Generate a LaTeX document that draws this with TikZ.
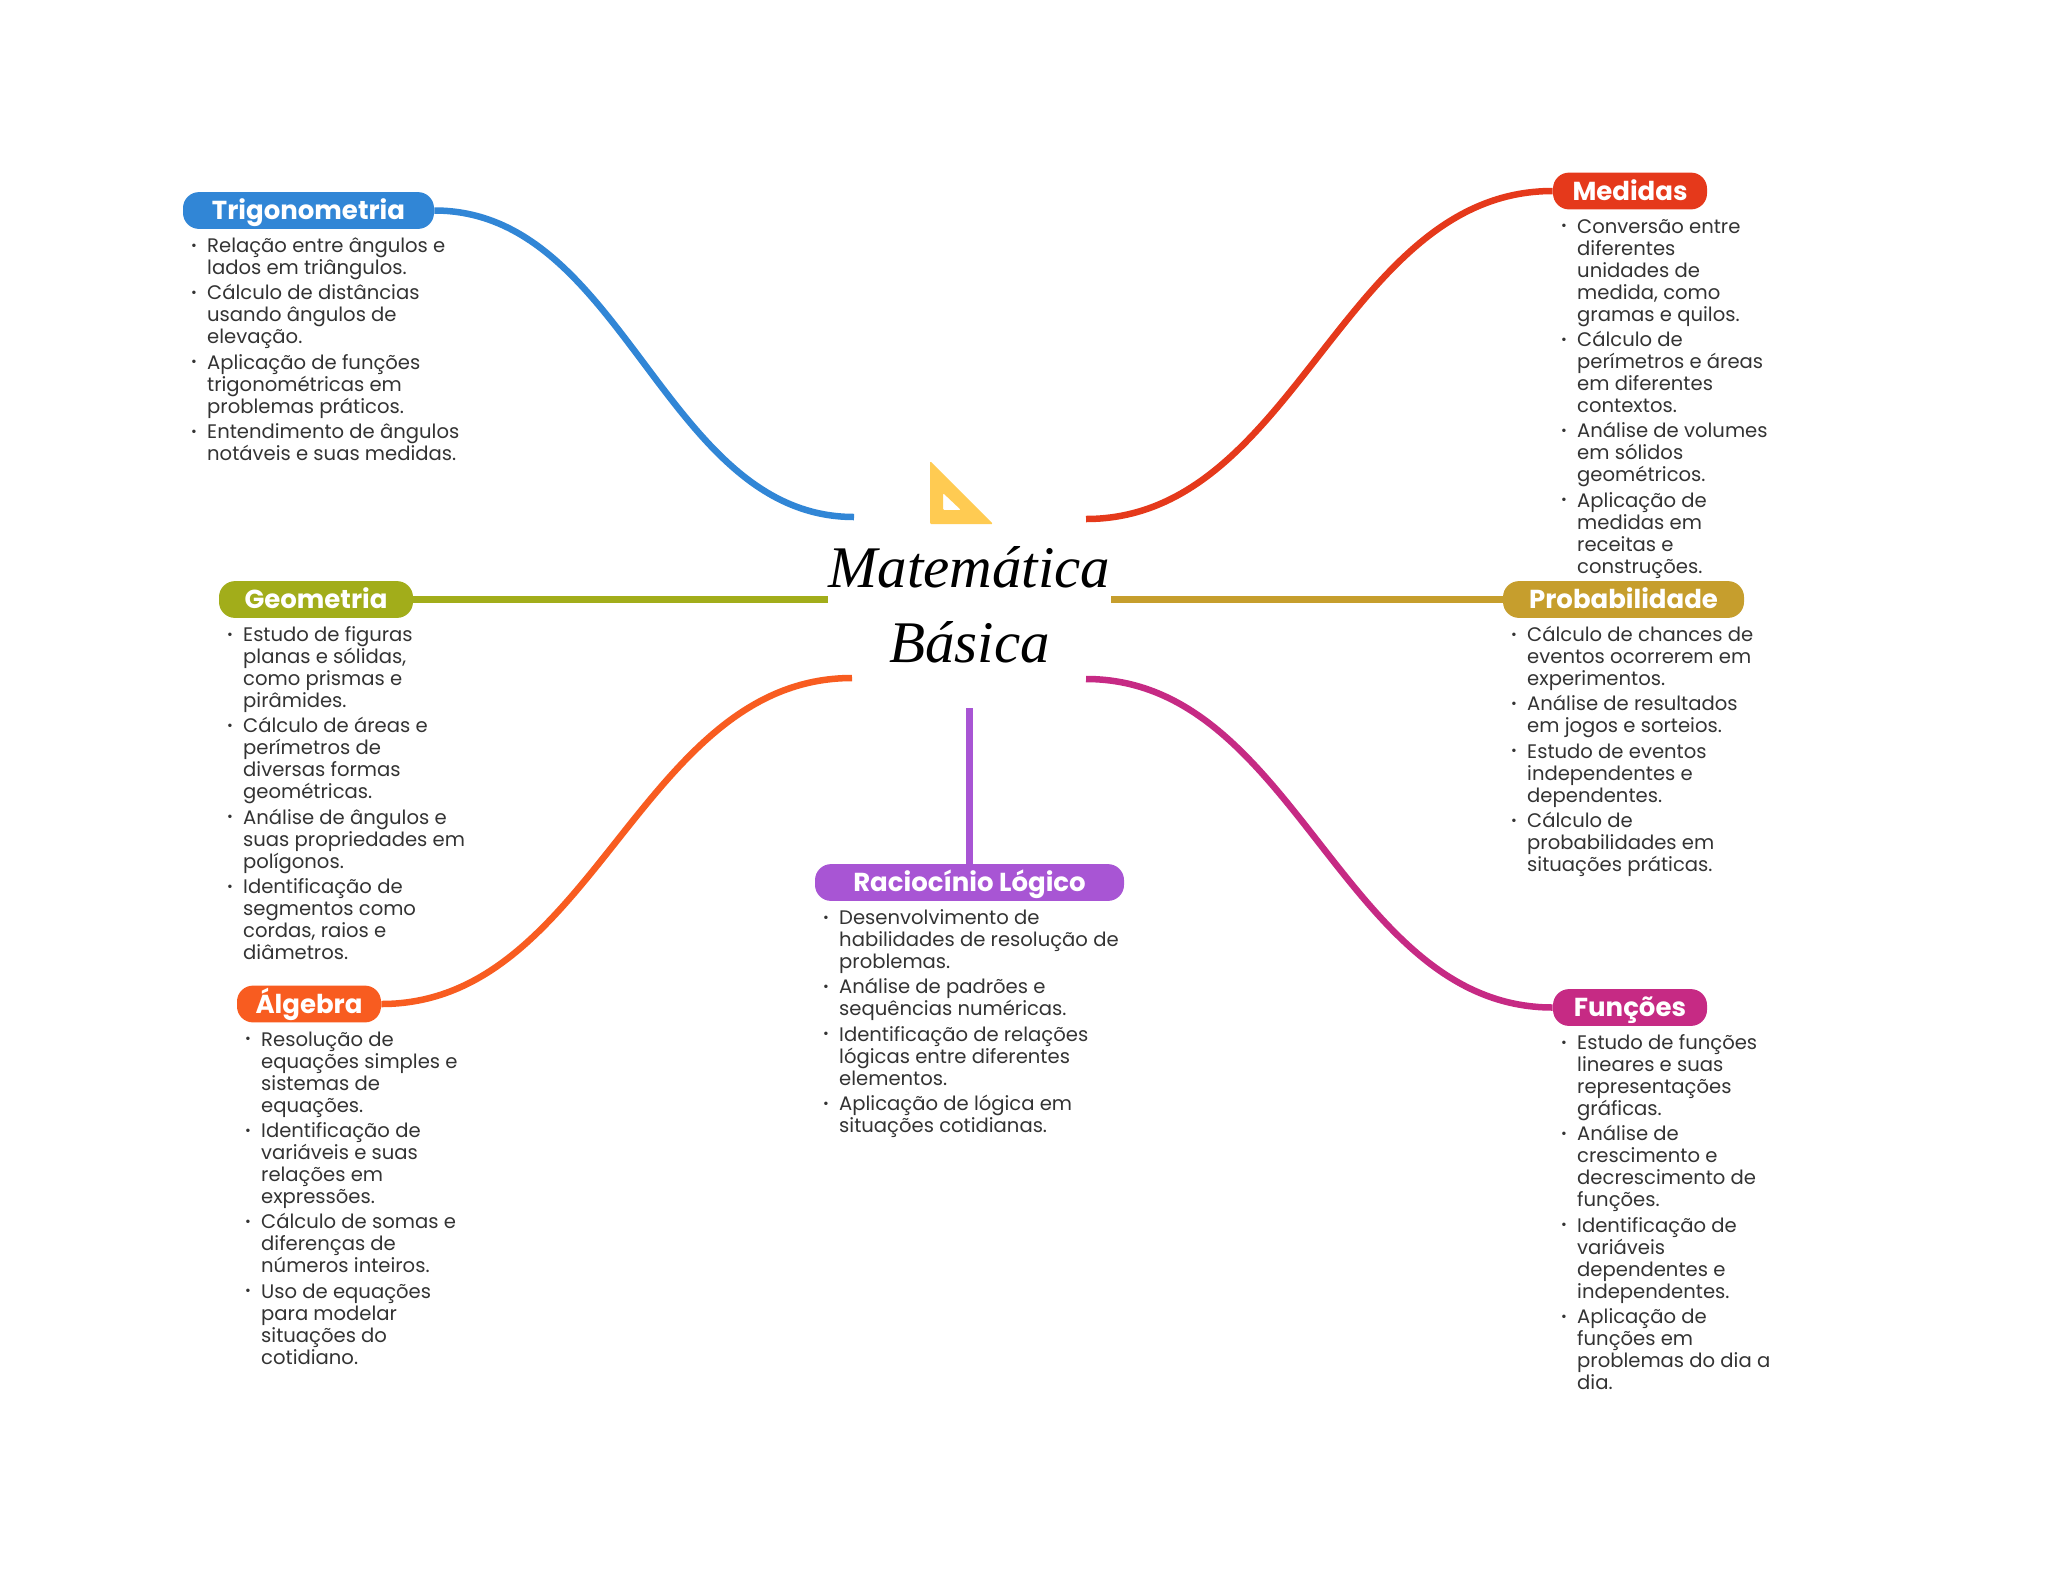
\documentclass[tikz,border=0pt]{standalone}
\usepackage{fontspec}
\usepackage{xcolor}
\setmainfont{Poppins}
\newfontfamily\titlefont{Liberation Serif}
\usetikzlibrary{positioning}
\definecolor{mathBlue}{HTML}{3186D6}
\definecolor{mathRed}{HTML}{E5391B}
\definecolor{mathOlive}{HTML}{A2AD1A}
\definecolor{mathGold}{HTML}{C69E2D}
\definecolor{mathOrange}{HTML}{F85C20}
\definecolor{mathMagenta}{HTML}{C62A84}
\definecolor{mathPurple}{HTML}{A855D4}
\definecolor{mathYellow}{HTML}{FFCB52}
\definecolor{bodyGray}{HTML}{333333}
\newcommand{\itm}{\rule{0pt}{8pt}\llap{\raisebox{1.2pt}{\fontsize{7}{7}\selectfont •}\hspace{5.2pt}}}

\begin{document}
\begin{tikzpicture}[x=0.5pt, y=-0.5pt,
  topic/.style={rectangle, rounded corners=8pt, minimum height=18.4pt, inner sep=0pt, text height=11.5pt, text depth=2.5pt, text=white, font=\fontsize{13}{14}\selectfont\bfseries},
  details/.style={inner sep=0pt, align=left, text=bodyGray, font=\fontsize{9.8}{11}\selectfont},
  link/.style={line width=3.25pt},
  root/.style={inner sep=0pt, align=center, font=\fontsize{29.5}{37.5}\selectfont\titlefont\itshape}
]
\useasboundingbox (0,0) rectangle (2048,1569);
\node[root] (hub) at (969.5,605) {Matemática\\Básica};
\coordinate (hubNW) at (854,517);
\coordinate (hubNE) at (1086,519);
\coordinate (hubW) at (828,599.5);
\coordinate (hubE) at (1111,599.5);
\coordinate (hubSW) at (852,678);
\coordinate (hubSE) at (1086,679);
\coordinate (hubS) at (969.5,708);
\node[topic, fill=mathBlue, minimum width=125.5pt] (trigo) at (308.5,210.5) {Trigonometria};
\node[topic, fill=mathRed, minimum width=77pt] (medidas) at (1630,191) {Medidas};
\node[topic, fill=mathOlive, minimum width=97pt] (geo) at (316,599.5) {Geometria};
\node[topic, fill=mathGold, minimum width=120.5pt] (prob) at (1623.5,599.5) {Probabilidade};
\node[topic, fill=mathOrange, minimum width=72pt] (algebra) at (309,1004) {Álgebra};
\node[topic, fill=mathPurple, minimum width=154.5pt] (logica) at (969.5,882.5) {Raciocínio Lógico};
\node[topic, fill=mathMagenta, minimum width=77pt] (funcoes) at (1630,1007.5) {Funções};
\node[details, below right=3.4pt and 12.1pt of trigo.south west] (trigoList) {\itm Relação entre ângulos e\\lados em triângulos.\\[1.7pt]
\itm Cálculo de distâncias\\usando ângulos de\\elevação.\\[1.7pt]
\itm Aplicação de funções\\trigonométricas em\\problemas práticos.\\[1.7pt]
\itm Entendimento de ângulos\\notáveis e suas medidas.};
\node[details, below right=3.4pt and 12.1pt of medidas.south west] (medidasList) {\itm Conversão entre\\diferentes\\unidades de\\medida, como\\gramas e quilos.\\[1.7pt]
\itm Cálculo de\\perímetros e áreas\\em diferentes\\contextos.\\[1.7pt]
\itm Análise de volumes\\em sólidos\\geométricos.\\[1.7pt]
\itm Aplicação de\\medidas em\\receitas e\\construções.};
\node[details, below right=3.4pt and 12.1pt of geo.south west] (geoList) {\itm Estudo de figuras\\planas e sólidas,\\como prismas e\\pirâmides.\\[1.7pt]
\itm Cálculo de áreas e\\perímetros de\\diversas formas\\geométricas.\\[1.7pt]
\itm Análise de ângulos e\\suas propriedades em\\polígonos.\\[1.7pt]
\itm Identificação de\\segmentos como\\cordas, raios e\\diâmetros.};
\node[details, below right=3.4pt and 12.1pt of prob.south west] (probList) {\itm Cálculo de chances de\\eventos ocorrerem em\\experimentos.\\[1.7pt]
\itm Análise de resultados\\em jogos e sorteios.\\[1.7pt]
\itm Estudo de eventos\\independentes e\\dependentes.\\[1.7pt]
\itm Cálculo de\\probabilidades em\\situações práticas.};
\node[details, below right=3.4pt and 12.1pt of algebra.south west] (algebraList) {\itm Resolução de\\equações simples e\\sistemas de\\equações.\\[1.7pt]
\itm Identificação de\\variáveis e suas\\relações em\\expressões.\\[1.7pt]
\itm Cálculo de somas e\\diferenças de\\números inteiros.\\[1.7pt]
\itm Uso de equações\\para modelar\\situações do\\cotidiano.};
\node[details, below right=3.4pt and 12.1pt of logica.south west] (logicaList) {\itm Desenvolvimento de\\habilidades de resolução de\\problemas.\\[1.7pt]
\itm Análise de padrões e\\sequências numéricas.\\[1.7pt]
\itm Identificação de relações\\lógicas entre diferentes\\elementos.\\[1.7pt]
\itm Aplicação de lógica em\\situações cotidianas.};
\node[details, below right=3.4pt and 12.1pt of funcoes.south west] (funcoesList) {\itm Estudo de funções\\lineares e suas\\representações\\gráficas.\\[1.7pt]
\itm Análise de\\crescimento e\\decrescimento de\\funções.\\[1.7pt]
\itm Identificação de\\variáveis\\dependentes e\\independentes.\\[1.7pt]
\itm Aplicação de\\funções em\\problemas do dia a\\dia.};
\draw[link, draw=mathBlue] (trigo.east) .. controls +(190,0) and +(-190,0) .. (hubNW);
\draw[link, draw=mathRed] (medidas.west) .. controls +(-210,0) and +(210,0) .. (hubNE);
\draw[link, draw=mathOlive] (geo.east) -- (hubW);
\draw[link, draw=mathGold] (prob.west) -- (hubE);
\draw[link, draw=mathOrange] (algebra.east) .. controls +(212,0) and +(-212,0) .. (hubSW);
\draw[link, draw=mathMagenta] (funcoes.west) .. controls +(-210,0) and +(210,0) .. (hubSE);
\draw[link, draw=mathPurple] (hubS) -- (logica.north);
\fill[mathYellow, rounded corners=0.6pt, even odd rule] (930,461) -- (930,524) -- (993,524) -- cycle (943,493) -- (943,510) -- (961,510) -- cycle;
\end{tikzpicture}
\end{document}
